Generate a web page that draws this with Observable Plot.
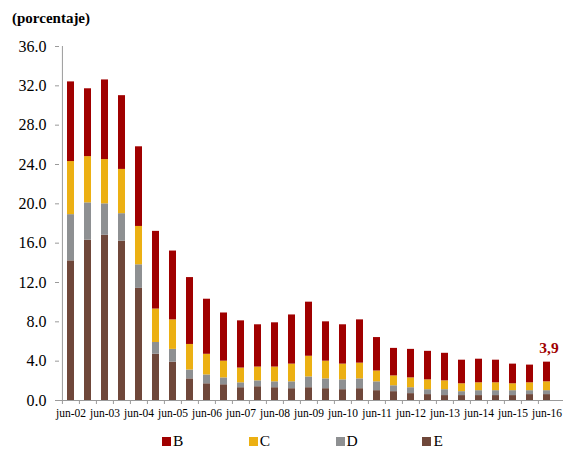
<!DOCTYPE html>
<html>
<head>
<meta charset="utf-8">
<script src="https://cdn.jsdelivr.net/npm/d3@7"></script>
<script src="https://cdn.jsdelivr.net/npm/@observablehq/plot@0.6"></script>
<style>
  html, body { margin: 0; padding: 0; background: #fff; }
  #wrap { position: relative; width: 563px; height: 449px; overflow: hidden; font-family: "Liberation Serif", "Times New Roman", serif; }
  #title { position: absolute; left: 12px; top: 10px; font-size: 15px; font-weight: bold; color: #000; }
  #legend { position: absolute; left: 0; top: 432px; width: 563px; height: 17px; }
  .item { position: absolute; top: 0; display: flex; align-items: center; font-size: 15.5px; color: #000; }
  .sw { width: 9px; height: 9px; margin-right: 2px; }
  #chart { position: absolute; left: 0; top: 0; }
</style>
</head>
<body>
<div id="wrap">
  <div id="chart"></div>
  <div id="title">(porcentaje)</div>
  <div id="legend"></div>
</div>
<script>
// Semiannual periods, June 2002 to June 2016
const periods = [
  "jun-02","dic-02","jun-03","dic-03","jun-04","dic-04","jun-05","dic-05",
  "jun-06","dic-06","jun-07","dic-07","jun-08","dic-08","jun-09","dic-09",
  "jun-10","dic-10","jun-11","dic-11","jun-12","dic-12","jun-13","dic-13",
  "jun-14","dic-14","jun-15","dic-15","jun-16"
];

// Stacked components (percent), bottom to top: E, D, C, B
const seriesE = [14.2,16.3,16.8,16.2,11.4,4.7,3.9,2.2,1.7,1.6,1.3,1.4,1.3,1.2,1.3,1.2,1.1,1.2,1.0,0.9,0.7,0.6,0.5,0.5,0.5,0.5,0.5,0.6,0.6];
const seriesD = [4.7,3.8,3.2,2.8,2.4,1.2,1.3,0.9,0.9,0.7,0.5,0.6,0.6,0.7,1.1,1.0,1.0,1.0,0.9,0.6,0.6,0.5,0.6,0.4,0.5,0.5,0.5,0.4,0.4];
const seriesC = [5.4,4.7,4.5,4.5,3.9,3.4,3.0,2.6,2.1,1.7,1.5,1.4,1.5,1.8,2.1,1.8,1.6,1.6,1.1,1.0,1.0,1.0,0.9,0.8,0.8,0.8,0.7,0.8,0.9];
const seriesB = [8.1,6.9,8.1,7.5,8.1,7.9,7.0,6.8,5.6,4.9,4.8,4.3,4.5,5.0,5.5,4.0,4.0,4.4,3.4,2.8,2.9,2.9,2.8,2.4,2.4,2.3,2.0,1.8,2.0];

const seriesNames = ["B", "C", "D", "E"];
const seriesColors = ["#a00000", "#ecb013", "#8e9092", "#6f473a"];
const yTicks = [0, 4, 8, 12, 16, 20, 24, 28, 32, 36];
const axisLabels = periods.filter(p => p.startsWith("jun"));

const valuesByName = {E: seriesE, D: seriesD, C: seriesC, B: seriesB};
const stackOrder = ["E", "D", "C", "B"];
const rows = [];
periods.forEach((p, i) => {
  stackOrder.forEach(s => rows.push({period: p, serie: s, value: valuesByName[s][i]}));
});
const totals = periods.map((p, i) => ({
  period: p,
  total: stackOrder.reduce((acc, s) => acc + valuesByName[s][i], 0)
}));
const lastTotal = totals[totals.length - 1];

const W = 563, H = 425, mL = 59, mR = 6, mT = 46, mB = 25;
const step = (W - mL - mR) / periods.length;

const plot = Plot.plot({
  width: W,
  height: H,
  marginLeft: mL,
  marginRight: mR,
  marginTop: mT,
  marginBottom: mB,
  style: {fontFamily: "'Liberation Serif', 'Times New Roman', serif", background: "#fff", overflow: "visible"},
  x: {domain: periods, paddingInner: 0.59, paddingOuter: 0.295, axis: null},
  y: {domain: [0, 36], axis: null},
  color: {domain: seriesNames, range: seriesColors},
  marks: [
    Plot.barY(rows, {
      x: "period", y: "value", fill: "serie",
      order: stackOrder
    }),
    // axis lines
    Plot.ruleY([0], {stroke: "#9a9a9a", strokeWidth: 1, insetRight: -mR}),
    Plot.ruleX([periods[0]], {y1: 0, y2: 36, dx: -step / 2, stroke: "#9a9a9a", strokeWidth: 1}),
    // y ticks and labels
    Plot.axisY({
      ticks: yTicks, tickFormat: d3.format(".1f"), tickSize: 4, tickPadding: 9,
      fontSize: 16, stroke: "#9a9a9a", color: "#000", label: null
    }),
    // x tick marks at period boundaries
    Plot.axisX({
      ticks: periods, tickSize: 4, text: null, dx: -step / 2, stroke: "#9a9a9a", label: null
    }),
    // x labels under June periods
    Plot.axisX({
      ticks: axisLabels, tickSize: 0, tickPadding: 8, fontSize: 11.5, color: "#000", label: null
    }),
    // value label on the latest bar
    Plot.text([lastTotal], {
      x: "period", y: "total",
      text: d => d.total.toFixed(1).replace(".", ","),
      dy: -9, lineAnchor: "bottom", dx: 2,
      fill: "#a00000", fontSize: 15.5, fontWeight: "bold"
    })
  ]
});
document.getElementById("chart").appendChild(plot);

// legend
const legend = document.getElementById("legend");
seriesNames.forEach((name, i) => {
  const item = document.createElement("div");
  item.className = "item";
  item.style.left = (162 + i * 86.8) + "px";
  const sw = document.createElement("span");
  sw.className = "sw";
  sw.style.background = seriesColors[i];
  const label = document.createElement("span");
  label.textContent = name;
  item.appendChild(sw);
  item.appendChild(label);
  legend.appendChild(item);
});
</script>
</body>
</html>
